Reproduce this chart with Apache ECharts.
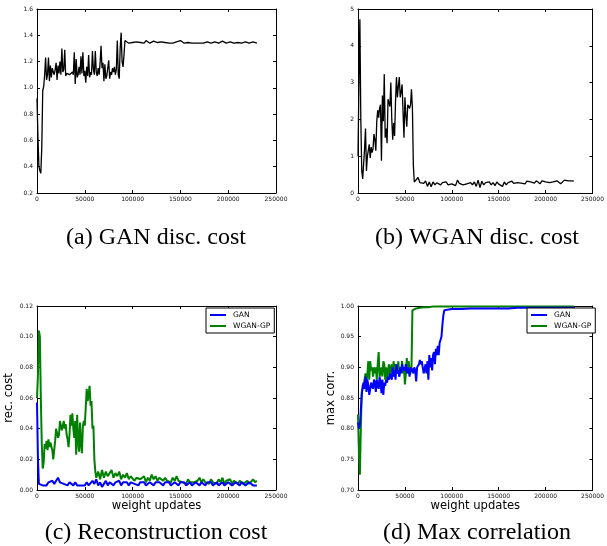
<!DOCTYPE html>
<html><head><meta charset="utf-8">
<script src="https://cdn.jsdelivr.net/npm/echarts@6/dist/echarts.min.js"></script>
<style>html,body{margin:0;padding:0;background:#fff}#c{width:607px;height:546px}</style>
</head><body><div id="c"></div>
<script>
// x values in thousands of weight updates
const xTicks = [0, 50000, 100000, 150000, 200000, 250000];
const captions = ['(a) GAN disc. cost', '(b) WGAN disc. cost', '(c) Reconstruction cost', '(d) Max correlation'];
const xName = 'weight updates';
const yNames = ['', '', 'rec. cost', 'max corr.'];
const legendNames = ['GAN', 'WGAN-GP'];

// (a) GAN discriminator cost [x(k), y]
const ganDisc = [[0,0.92],[1,0.62],[2,0.40],[3,0.37],[4,0.35],[5,0.55],[6,0.98],[7,1.01],[8,1.10],[9,1.23],[10,1.06],[11,1.10],[12,1.23],[13,1.05],[14,1.17],[15,1.08],[16,1.15],[17,1.12],[18,1.10],[19,1.14],[20,1.19],[21,1.06],[22,1.17],[23,1.11],[24,1.20],[25,1.10],[26,1.30],[27,1.12],[28,1.14],[29,1.29],[30,1.09],[31,1.11],[32,1.10],[33,1.11],[34,1.10],[35,1.11],[36,1.09],[37,1.12],[38,1.10],[39,1.27],[40,1.03],[41,1.22],[42,1.08],[43,1.10],[44,1.16],[45,1.10],[46,1.24],[47,1.11],[48,1.27],[49,1.09],[50,1.13],[51,1.04],[52,1.16],[53,1.09],[54,1.25],[55,1.08],[56,1.12],[57,1.10],[58,1.28],[59,1.14],[60,1.10],[61,1.28],[62,1.12],[63,1.09],[64,1.15],[65,1.10],[66,1.19],[67,1.32],[68,1.15],[69,1.19],[70,1.05],[71,1.18],[72,1.07],[73,1.09],[74,1.08],[75,1.21],[76,1.07],[77,1.12],[78,1.10],[79,1.15],[80,1.12],[81,1.16],[82,1.10],[83,1.14],[84,1.36],[85,1.10],[86,1.07],[87,1.30],[88,1.42],[89,1.20],[90,1.16],[91,1.25],[92,1.36],
[94,1.35],[96,1.34],[98,1.35],[100,1.345],[102,1.34],[104,1.35],[106,1.34],[108,1.345],[110,1.35],[112,1.34],[114,1.36],[116,1.35],[118,1.34],[120,1.35],[122,1.355],[124,1.34],[126,1.345],[128,1.35],[130,1.35],[132,1.34],[134,1.345],[136,1.34],[138,1.34],[140,1.35],[142,1.34],[144,1.345],[146,1.35],[148,1.35],[150,1.36],[152,1.345],[154,1.34],[156,1.35],[158,1.345],[160,1.34],[162,1.34],[164,1.35],[166,1.34],[168,1.345],[170,1.34],[172,1.35],[174,1.34],[176,1.345],[178,1.35],[180,1.34],[182,1.34],[184,1.345],[186,1.35],[188,1.345],[190,1.34],[192,1.35],[194,1.355],[196,1.35],[198,1.34],[200,1.345],[202,1.35],[204,1.345],[206,1.34],[208,1.35],[210,1.345],[212,1.35],[214,1.34],[216,1.345],[218,1.35],[220,1.34],[222,1.34],[224,1.345],[226,1.35],[228,1.34],[230,1.34]];

// (b) WGAN discriminator cost [x(k), y]
const wganDisc = [[0,1.0],[1,3.0],[2,4.72],[3,2.0],[4,0.6],[5,0.38],[6,0.8],[7,1.2],[8,1.75],[9,0.6],[10,1.0],[11,0.95],[12,1.32],[13,0.95],[14,1.25],[15,1.1],[16,1.2],[17,1.6],[18,1.45],[19,1.15],[20,1.95],[21,2.25],[22,2.05],[23,2.3],[24,2.4],[25,0.88],[26,2.65],[27,1.95],[28,3.23],[29,1.5],[30,1.75],[31,1.35],[32,2.55],[33,2.45],[34,2.35],[35,3.0],[36,2.0],[37,1.45],[38,1.9],[39,1.55],[40,2.5],[41,3.15],[42,2.6],[43,2.9],[44,3.15],[45,2.6],[46,2.75],[47,2.95],[48,2.2],[49,1.5],[50,2.6],[51,2.1],[52,1.8],[53,2.4],[54,2.35],[55,2.3],[56,2.4],[57,2.82],[58,2.3],[59,0.75],[60,0.3],[61,0.35],
[62,0.28],[64,0.42],[66,0.28],[68,0.32],[70,0.26],[72,0.33],[74,0.18],[76,0.3],[78,0.17],[80,0.3],[82,0.22],[84,0.28],[86,0.33],[88,0.22],[90,0.28],[92,0.25],[94,0.3],[96,0.22],[98,0.26],[100,0.25],[102,0.3],[104,0.2],[106,0.35],[108,0.26],[110,0.3],[112,0.22],[114,0.27],[116,0.25],[118,0.23],[120,0.28],[122,0.22],[124,0.3],[126,0.18],[128,0.35],[130,0.15],[132,0.32],[134,0.22],[136,0.28],[138,0.25],[140,0.3],[142,0.22],[144,0.28],[146,0.2],[148,0.3],[150,0.24],[152,0.28],[154,0.18],[156,0.3],[158,0.22],[160,0.28],[162,0.25],[164,0.32],[166,0.26],[168,0.3],[170,0.28],[172,0.33],[174,0.27],[176,0.3],[178,0.25],[180,0.32],[182,0.28],[184,0.3],[186,0.35],[188,0.27],[190,0.33],[192,0.3],[194,0.25],[196,0.33],[198,0.28],[200,0.3],[202,0.35],[204,0.28],[206,0.32],[208,0.3],[210,0.27],[212,0.33],[214,0.3],[216,0.25],[218,0.28],[220,0.35],[222,0.3],[224,0.33],[226,0.3],[228,0.33],[230,0.32]];

// (c) reconstruction cost
const recGan = [[0,0.057],[1,0.02],[2,0.004],[3,0.003],[4,0.004],[6,0.003],[8,0.004],[10,0.003],[12,0.005],[14,0.004],[16,0.006],[18,0.004],[20,0.003],[22,0.008],[24,0.005],[26,0.006],[28,0.004],[30,0.005],[32,0.003],[34,0.005],[36,0.004],[38,0.003],[40,0.005],[42,0.003],[44,0.004],[46,0.003],[48,0.004],[50,0.003],[52,0.005],[54,0.003],[56,0.004],[58,0.006],[60,0.004],[62,0.007],[64,0.003],[66,0.005],[68,0.002],[70,0.004],[72,0.006],[74,0.003],[76,0.005],[78,0.006],[80,0.003],[82,0.005],[84,0.004],[86,0.006],[88,0.003],[90,0.005],[92,0.004],[94,0.005],[96,0.003],[98,0.005],[100,0.006],[102,0.004],[104,0.005],[106,0.003],[108,0.005],[110,0.004],[112,0.005],[114,0.003],[116,0.004],[118,0.005],[120,0.004],[122,0.003],[124,0.005],[126,0.004],[128,0.005],[130,0.004],[132,0.003],[134,0.005],[136,0.004],[138,0.005],[140,0.003],[142,0.004],[144,0.005],[146,0.004],[148,0.003],[150,0.005],[152,0.004],[154,0.005],[156,0.003],[158,0.004],[160,0.005],[162,0.003],[164,0.004],[166,0.005],[168,0.004],[170,0.003],[172,0.005],[174,0.004],[176,0.003],[178,0.005],[180,0.004],[182,0.005],[184,0.003],[186,0.004],[188,0.005],[190,0.003],[192,0.004],[194,0.005],[196,0.003],[198,0.004],[200,0.005],[202,0.004],[204,0.003],[206,0.004],[208,0.005],[210,0.004],[212,0.003],[214,0.005],[216,0.004],[218,0.003],[220,0.004],[222,0.005],[224,0.004],[226,0.003],[228,0.004],[230,0.003]];
const recWgan = [[0,0.060],[1,0.075],[2,0.104],[3,0.100],[4,0.060],[5,0.030],[6,0.014],[7,0.018],[8,0.030],[9,0.027],[10,0.032],[11,0.026],[12,0.033],[13,0.028],[14,0.031],[15,0.030],[16,0.026],[17,0.020],[18,0.019],[19,0.032],[20,0.040],[21,0.037],[22,0.034],[23,0.036],[24,0.045],[25,0.044],[26,0.039],[27,0.042],[28,0.045],[29,0.040],[30,0.043],[31,0.036],[32,0.033],[33,0.028],[34,0.036],[35,0.049],[36,0.042],[37,0.050],[38,0.040],[39,0.034],[40,0.045],[41,0.023],[42,0.049],[43,0.032],[44,0.025],[45,0.044],[46,0.030],[47,0.024],[48,0.042],[49,0.045],[50,0.042],[51,0.043],[52,0.066],[53,0.058],[54,0.062],[55,0.068],[56,0.055],[57,0.058],[58,0.040],[59,0.042],[60,0.020],[61,0.012],[62,0.008],
[64,0.012],[66,0.007],[68,0.013],[70,0.008],[72,0.012],[74,0.009],[76,0.011],[78,0.013],[80,0.008],[82,0.011],[84,0.009],[86,0.012],[88,0.007],[90,0.010],[92,0.008],[94,0.011],[96,0.007],[98,0.009],[100,0.010],[102,0.006],[104,0.008],[106,0.009],[108,0.007],[110,0.006],[112,0.009],[114,0.005],[116,0.008],[118,0.006],[120,0.010],[122,0.007],[124,0.009],[126,0.006],[128,0.008],[130,0.009],[132,0.006],[134,0.008],[136,0.006],[138,0.007],[140,0.005],[142,0.008],[144,0.006],[146,0.009],[148,0.006],[150,0.007],[152,0.005],[154,0.006],[156,0.004],[158,0.007],[160,0.005],[162,0.006],[164,0.005],[166,0.004],[168,0.006],[170,0.008],[172,0.005],[174,0.007],[176,0.005],[178,0.006],[180,0.004],[182,0.007],[184,0.005],[186,0.006],[188,0.004],[190,0.007],[192,0.005],[194,0.008],[196,0.004],[198,0.006],[200,0.005],[202,0.007],[204,0.004],[206,0.006],[208,0.005],[210,0.004],[212,0.006],[214,0.005],[216,0.004],[218,0.005],[220,0.006],[222,0.004],[224,0.005],[226,0.007],[228,0.005],[230,0.006]];

// (d) max correlation
const corrGan = [[0,0.81],[1,0.80],[2,0.805],[3,0.83],[4,0.855],[5,0.87],[6,0.875],[7,0.865],[8,0.885],[9,0.86],[10,0.88],[11,0.87],[12,0.855],[13,0.865],[14,0.875],[15,0.87],[16,0.865],[17,0.88],[18,0.875],[19,0.86],[20,0.88],[21,0.87],[22,0.865],[23,0.885],[24,0.875],[25,0.858],[26,0.88],[27,0.855],[28,0.875],[29,0.87],[30,0.88],[31,0.875],[32,0.885],[33,0.88],[34,0.89],[35,0.885],[36,0.88],[37,0.9],[38,0.885],[39,0.895],[40,0.88],[41,0.905],[42,0.89],[43,0.895],[44,0.885],[45,0.9],[46,0.89],[47,0.905],[48,0.895],[49,0.9],[50,0.895],[51,0.905],[52,0.89],[53,0.9],[54,0.895],[55,0.885],[56,0.9],[57,0.893],[58,0.898],[59,0.89],[60,0.9],[61,0.895],[62,0.877],[63,0.9],[64,0.898],[65,0.905],[66,0.912],[67,0.905],[68,0.91],[69,0.9],[70,0.89],[71,0.89],[72,0.905],[73,0.89],[74,0.91],[75,0.88],[76,0.92],[77,0.9],[78,0.915],[79,0.895],[80,0.92],[81,0.925],[82,0.905],[83,0.93],[84,0.92],[85,0.935],[86,0.92],[87,0.94],[88,0.945],[89,0.95],[90,0.97],[91,0.985],[92,0.993],[94,0.995],[100,0.995],[110,0.995],[120,0.996],[130,0.996],[140,0.996],[150,0.996],[160,0.996],[170,0.997],[180,0.997],[190,0.997],[200,0.997],[210,0.997],[220,0.997],[231,0.997]];
const corrWgan = [[0,0.823],[1,0.76],[2,0.725],[3,0.80],[4,0.86],[5,0.865],[6,0.87],[7,0.88],[8,0.89],[9,0.875],[10,0.89],[11,0.91],[12,0.88],[13,0.91],[14,0.895],[15,0.9],[16,0.885],[17,0.9],[18,0.89],[19,0.9],[20,0.88],[21,0.905],[22,0.925],[23,0.885],[24,0.89],[25,0.9],[26,0.885],[27,0.91],[28,0.905],[29,0.88],[30,0.9],[31,0.88],[32,0.895],[33,0.905],[34,0.885],[35,0.9],[36,0.905],[37,0.89],[38,0.91],[39,0.885],[40,0.905],[41,0.895],[42,0.89],[43,0.91],[44,0.885],[45,0.9],[46,0.895],[47,0.91],[48,0.89],[49,0.9],[50,0.872],[51,0.89],[52,0.915],[53,0.89],[54,0.91],[55,0.895],[56,0.89],[57,0.9],[58,0.993],[59,0.994],[60,0.995],[62,0.996],[66,0.997],[70,0.998],[75,0.998],[80,0.999],[85,0.999],[100,0.999],[120,0.999],[140,0.999],[160,0.999],[180,0.999],[200,0.999],[220,0.999],[230,0.999]];

const panelData = [[ganDisc], [wganDisc], [recGan, recWgan], [corrGan, corrWgan]];
const yRanges = [[0.2, 1.6, 0.2, 1], [0, 5, 1, 0], [0, 0.12, 0.02, 2], [0.7, 1.0, 0.05, 2]];

const grids = [
  {left: 37, top: 9, width: 239, height: 184},
  {left: 358, top: 9, width: 238, height: 184},
  {left: 37, top: 306, width: 239, height: 184},
  {left: 358, top: 306, width: 238, height: 184}
];
const sans = 'DejaVu Sans';
const axLine = {show: true, onZero: false, lineStyle: {color: '#000', width: 1}};
const tick = {show: true, inside: true, length: 3, lineStyle: {color: '#000', width: 1}};
const xAxes = [], yAxes = [], series = [];
grids.forEach((g, i) => {
  const named = i >= 2;
  xAxes.push({gridIndex: i, type: 'value', min: 0, max: 250000, interval: 50000, position: 'bottom',
    axisLine: axLine, axisTick: tick, splitLine: {show: false},
    axisLabel: {fontSize: 6, fontFamily: sans, color: '#111', margin: 3, formatter: v => String(v)},
    name: named ? xName : '', nameLocation: 'middle', nameGap: 10,
    nameTextStyle: {fontSize: 11.6, fontFamily: sans, color: '#000'}});
  xAxes.push({gridIndex: i, type: 'value', min: 0, max: 250000, interval: 50000, position: 'top',
    axisLine: axLine, axisTick: tick, splitLine: {show: false}, axisLabel: {show: false}});
  const r = yRanges[i];
  yAxes.push({gridIndex: i, type: 'value', min: r[0], max: r[1], interval: r[2], position: 'left',
    axisLine: axLine, axisTick: tick, splitLine: {show: false},
    axisLabel: {fontSize: 6, fontFamily: sans, color: '#111', margin: 4, formatter: v => v.toFixed(r[3])},
    name: yNames[i], nameLocation: 'middle', nameGap: i === 2 ? 22 : 20,
    nameTextStyle: {fontSize: 11.6, fontFamily: sans, color: '#000'}});
  yAxes.push({gridIndex: i, type: 'value', min: r[0], max: r[1], interval: r[2], position: 'right',
    axisLine: axLine, axisTick: tick, splitLine: {show: false}, axisLabel: {show: false}});
  panelData[i].forEach((d, k) => {
    const colors = named ? ['#0000ff', '#008000'] : ['#000'];
    series.push({type: 'line', name: named ? legendNames[k] : 'disc' + i,
      xAxisIndex: i * 2, yAxisIndex: i * 2,
      data: d.map(p => [p[0] * 1000, p[1]]),
      showSymbol: false, symbol: 'none',
      lineStyle: {color: colors[k], width: named ? 2 : 1.3}, itemStyle: {color: colors[k]},
      z: named ? 3 - k : 2});
  });
});

const legendBase = {orient: 'vertical', top: 308, borderColor: '#000', borderWidth: 1, backgroundColor: '#fff',
  padding: [3, 4, 3, 4], itemGap: 3, itemWidth: 16, itemHeight: 2, icon: 'rect',
  textStyle: {fontSize: 7.5, fontFamily: sans, color: '#000', padding: [0, 0, 0, 2]}, data: legendNames};
const captionPos = [[156, 238], [477, 238], [156, 533], [477, 533]];

const chart = echarts.init(document.getElementById('c'), null, {renderer: 'canvas'});
chart.setOption({
  animation: false,
  backgroundColor: '#fff',
  grid: grids,
  xAxis: xAxes,
  yAxis: yAxes,
  series: series,
  legend: [Object.assign({}, legendBase, {left: 206}), Object.assign({}, legendBase, {left: 527})],
  graphic: captions.map((t, i) => ({type: 'text', x: captionPos[i][0], y: captionPos[i][1],
    style: {text: t, fontSize: 24, fontFamily: 'Liberation Serif', fill: '#000', align: 'center', verticalAlign: 'middle'}}))
});
</script></body></html>
